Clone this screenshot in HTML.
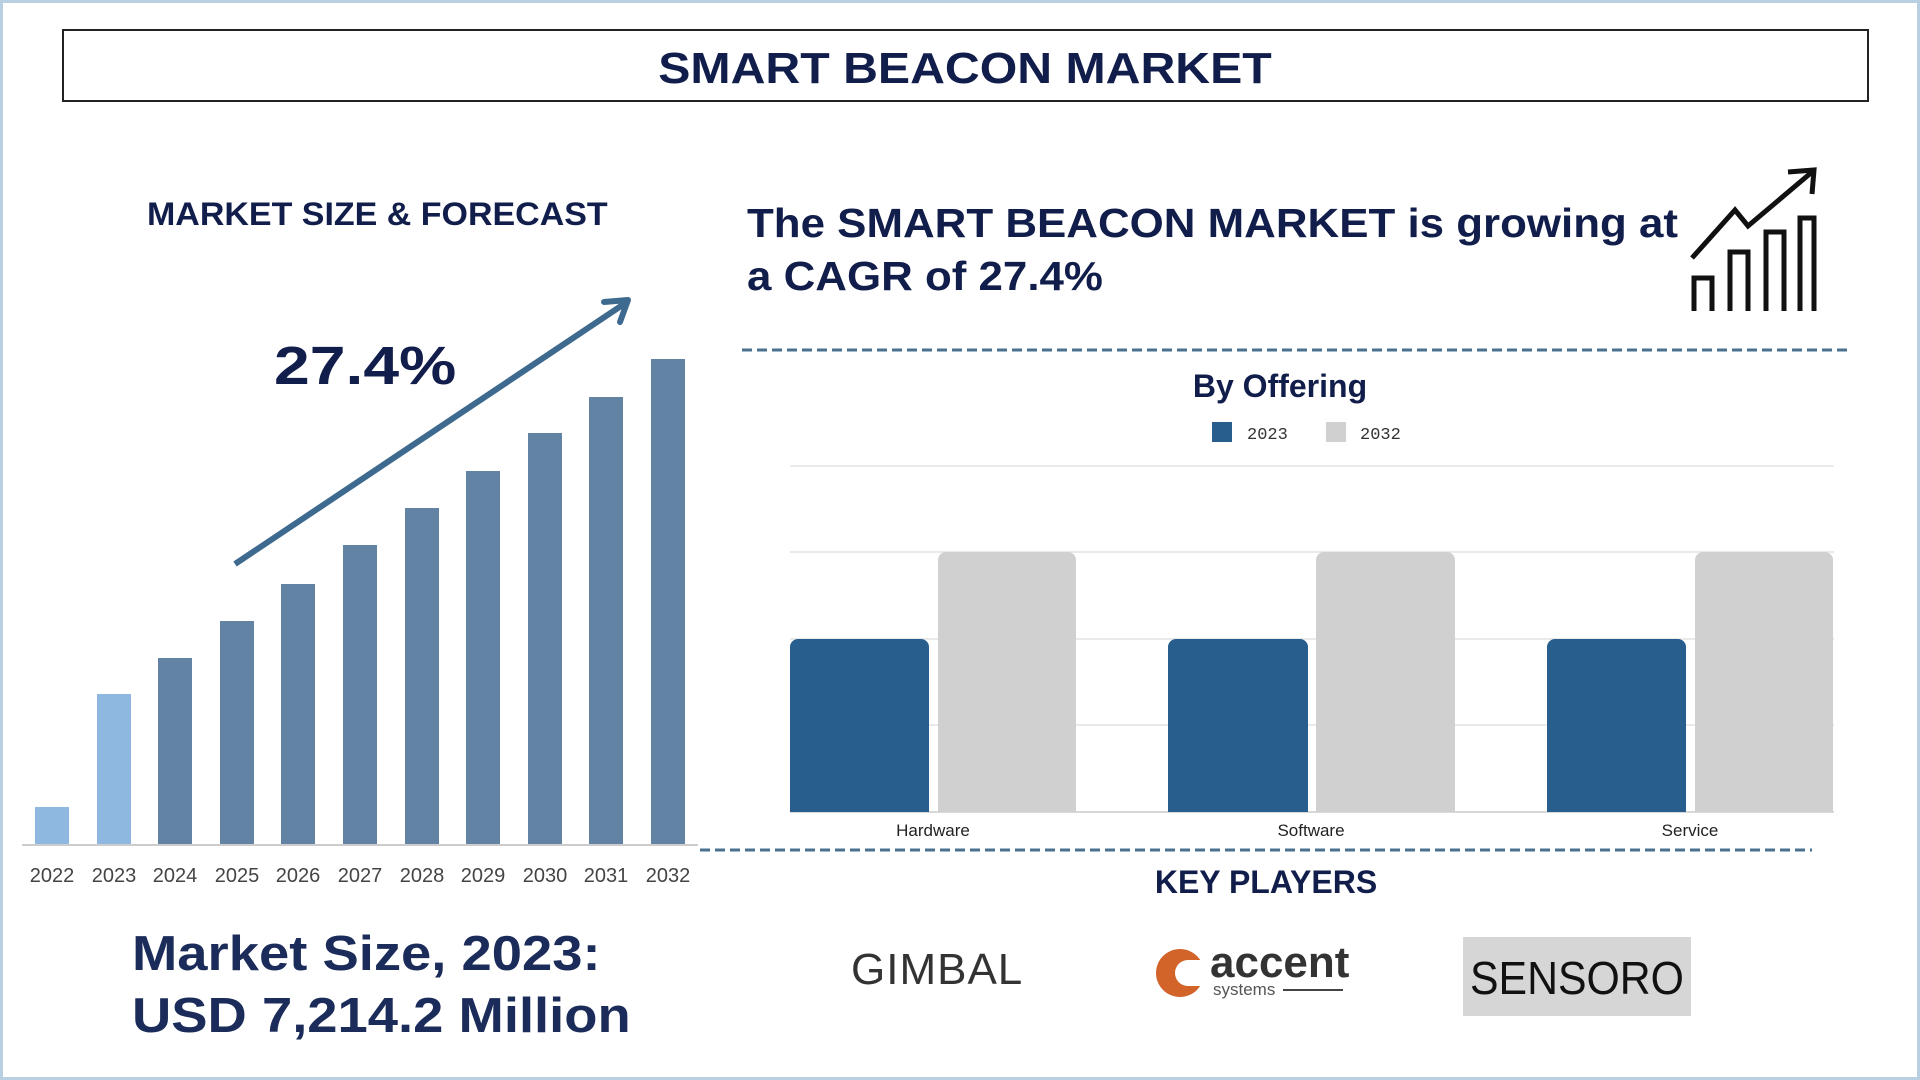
<!DOCTYPE html>
<html><head><meta charset="utf-8"><style>
*{margin:0;padding:0;box-sizing:border-box}
body{width:1920px;height:1080px;background:#fff;position:relative;overflow:hidden;font-family:"Liberation Sans",sans-serif;color:#111d4a}
.frame{position:absolute;left:0;top:0;width:1920px;height:1080px;border:3px solid #b9d0e3}
.t{position:absolute;font-weight:bold;white-space:nowrap}
</style></head><body>
<div class="frame"></div>
<div style="position:absolute;left:62px;top:29px;width:1807px;height:73px;border:2px solid #222"></div>
<div class="t" style="left:0;width:1930px;text-align:center;top:44px;font-size:44px;transform:scaleX(1.096)">SMART BEACON MARKET</div>
<div class="t" style="left:147px;top:196px;font-size:32px;transform:scaleX(1.062);transform-origin:left">MARKET SIZE &amp; FORECAST</div>
<div class="t" style="left:274px;top:335px;font-size:54px;transform:scaleX(1.19);transform-origin:left">27.4%</div>
<svg style="position:absolute;left:0;top:0" width="1920" height="1080">
<g fill="#6283a3">
<rect x="35" y="807" width="34" height="37" fill="#8fb8e0"/>
<rect x="97" y="694" width="34" height="150" fill="#8fb8e0"/>
<rect x="158" y="658" width="34" height="186"/>
<rect x="220" y="621" width="34" height="223"/>
<rect x="281" y="584" width="34" height="260"/>
<rect x="343" y="545" width="34" height="299"/>
<rect x="405" y="508" width="34" height="336"/>
<rect x="466" y="471" width="34" height="373"/>
<rect x="528" y="433" width="34" height="411"/>
<rect x="589" y="397" width="34" height="447"/>
<rect x="651" y="359" width="34" height="485"/>
</g>
<line x1="22" y1="845" x2="698" y2="845" stroke="#ccc" stroke-width="2"/>
<line x1="235" y1="564" x2="624" y2="304" stroke="#3d6a8e" stroke-width="6"/>
<polyline points="604,302 628,300 620,322" fill="none" stroke="#3d6a8e" stroke-width="6" stroke-linecap="round" stroke-linejoin="round"/>
<g font-family="Liberation Sans,sans-serif" font-size="20" fill="#444" text-anchor="middle">
<text x="52" y="882">2022</text><text x="114" y="882">2023</text><text x="175" y="882">2024</text><text x="237" y="882">2025</text><text x="298" y="882">2026</text><text x="360" y="882">2027</text><text x="422" y="882">2028</text><text x="483" y="882">2029</text><text x="545" y="882">2030</text><text x="606" y="882">2031</text><text x="668" y="882">2032</text>
</g>
<g fill="none" stroke="#111" stroke-width="5">
<polyline points="1694,311 1694,278 1712,278 1712,311"/>
<polyline points="1730,311 1730,252 1748,252 1748,311"/>
<polyline points="1766,311 1766,232 1784,232 1784,311"/>
<polyline points="1800,311 1800,218 1814,218 1814,311"/>
<polyline points="1692,258 1735,210 1748,226 1812,172"/>
<polyline points="1788,172 1814,170 1812,194"/>
</g>
<line x1="742" y1="350" x2="1851" y2="350" stroke="#4a7090" stroke-width="3" stroke-dasharray="10,5"/>
<line x1="700" y1="850" x2="1812" y2="850" stroke="#4a7090" stroke-width="3" stroke-dasharray="10,5"/>
<g stroke="#e4e4e4" stroke-width="1.5">
<line x1="790" y1="466" x2="1834" y2="466"/><line x1="790" y1="552" x2="1834" y2="552"/><line x1="790" y1="639" x2="1834" y2="639"/><line x1="790" y1="725" x2="1834" y2="725"/><line x1="790" y1="812" x2="1834" y2="812" stroke="#ccc"/>
</g>
<g fill="#285e8e">
<path d="M790,812V647a8,8 0 0 1 8,-8H921a8,8 0 0 1 8,8V812Z"/>
<path d="M1168,812V647a8,8 0 0 1 8,-8H1300a8,8 0 0 1 8,8V812Z"/>
<path d="M1547,812V647a8,8 0 0 1 8,-8H1678a8,8 0 0 1 8,8V812Z"/>
</g>
<g fill="#d0d0d0">
<path d="M938,812V560a8,8 0 0 1 8,-8H1068a8,8 0 0 1 8,8V812Z"/>
<path d="M1316,812V560a8,8 0 0 1 8,-8H1447a8,8 0 0 1 8,8V812Z"/>
<path d="M1695,812V560a8,8 0 0 1 8,-8H1825a8,8 0 0 1 8,8V812Z"/>
</g>
<rect x="1212" y="422" width="20" height="20" fill="#285e8e"/>
<rect x="1326" y="422" width="20" height="20" fill="#d0d0d0"/>
<g font-family="Liberation Mono,monospace" font-size="17" fill="#333">
<text x="1247" y="439">2023</text><text x="1360" y="439">2032</text>
</g>
<g font-family="Liberation Sans,sans-serif" font-size="17" fill="#222" text-anchor="middle">
<text x="933" y="836">Hardware</text><text x="1311" y="836">Software</text><text x="1690" y="836">Service</text>
</g>
<circle cx="1180" cy="973" r="24" fill="#d2642a"/>
<circle cx="1188" cy="973" r="13" fill="#fff"/>
<rect x="1188" y="960" width="20" height="26" fill="#fff"/>
<line x1="1283" y1="990" x2="1343" y2="990" stroke="#444" stroke-width="2"/>
<rect x="1463" y="937" width="228" height="79" fill="#d6d6d6"/>
</svg>
<div class="t" style="left:747px;top:197px;font-size:41px;line-height:53px;transform:scaleX(1.07);transform-origin:left">The SMART BEACON MARKET is growing at<br>a CAGR of 27.4%</div>
<div class="t" style="left:1100px;width:360px;text-align:center;top:368px;font-size:32px;">By Offering</div>
<div class="t" style="left:1086px;width:360px;text-align:center;top:864px;font-size:32px;">KEY PLAYERS</div>
<div class="t" style="left:132px;top:923px;font-size:49px;line-height:62px;color:#1c2c5a;transform:scaleX(1.11);transform-origin:left">Market Size, 2023:<br>USD 7,214.2 Million</div>
<div style="position:absolute;left:851px;top:945px;font-size:44px;color:#333;letter-spacing:1px;white-space:nowrap">GIMBAL</div>
<div style="position:absolute;left:1210px;top:938px;font-size:44px;font-weight:bold;color:#333;white-space:nowrap">accent</div>
<div style="position:absolute;left:1213px;top:980px;font-size:17px;color:#555;white-space:nowrap">systems</div>
<div style="position:absolute;left:1470px;top:951px;font-size:46px;color:#111;white-space:nowrap;transform:scaleX(0.93);transform-origin:left">SENSORO</div>
</body></html>
